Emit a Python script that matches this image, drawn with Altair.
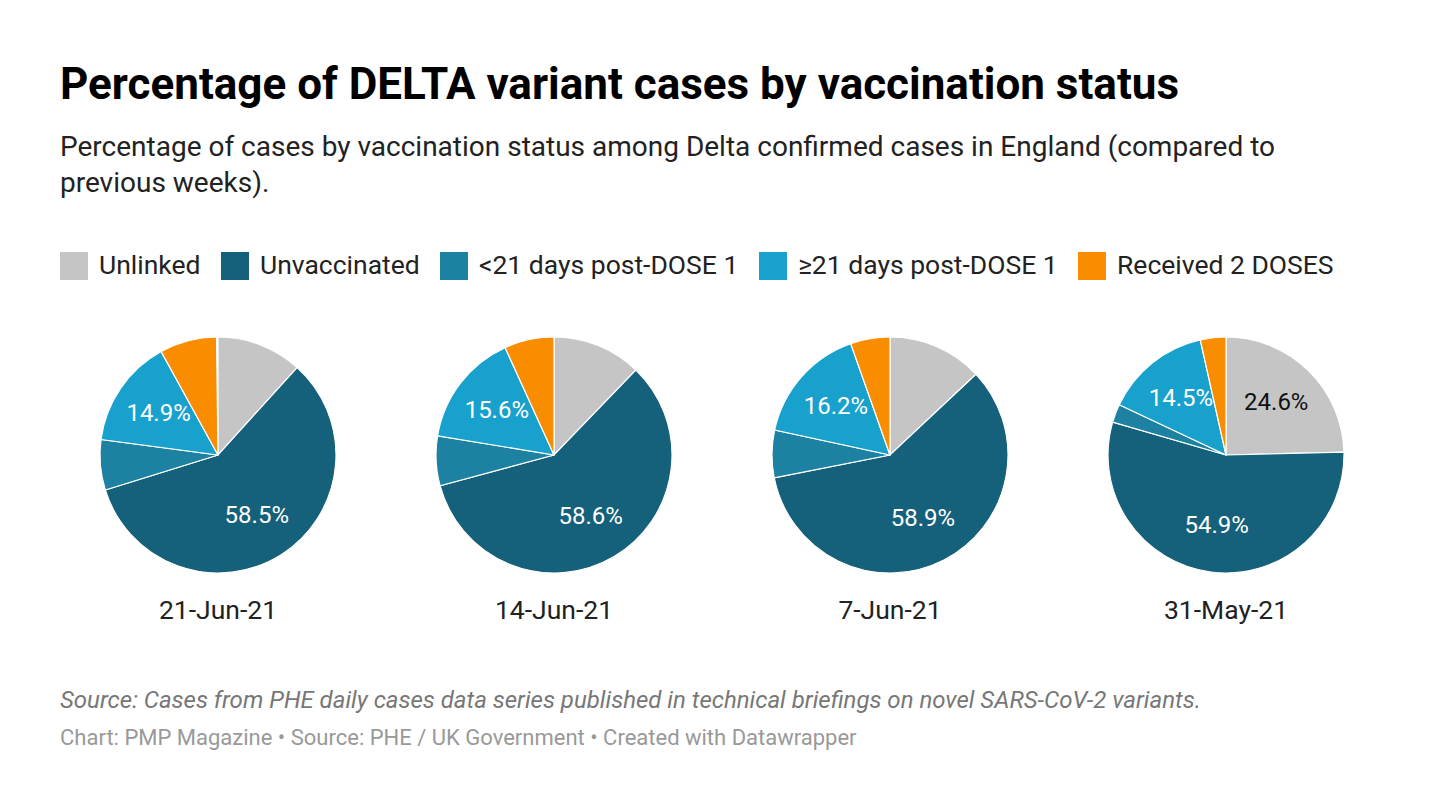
import math
import altair as alt
import pandas as pd

# ---- data ----
dates = ["21-Jun-21", "14-Jun-21", "7-Jun-21", "31-May-21"]
statuses = ["Unlinked", "Unvaccinated", "<21 days post-DOSE 1",
            "\u226521 days post-DOSE 1", "Received 2 DOSES"]
unlinked = [11.7, 12.2, 13.0, 24.6]
unvaccinated = [58.5, 58.6, 58.9, 54.9]
lt21_dose1 = [6.9, 6.8, 6.5, 2.5]
ge21_dose1 = [14.9, 15.6, 16.2, 14.5]
two_doses = [7.8, 6.8, 5.4, 3.5]
# which slices carry a printed label
labelled = {
    "21-Jun-21": ["Unvaccinated", "\u226521 days post-DOSE 1"],
    "14-Jun-21": ["Unvaccinated", "\u226521 days post-DOSE 1"],
    "7-Jun-21": ["Unvaccinated", "\u226521 days post-DOSE 1"],
    "31-May-21": ["Unlinked", "Unvaccinated", "\u226521 days post-DOSE 1"],
}
colors = ["#c5c5c5", "#15607a", "#1d81a2", "#18a1cd", "#fa8c00"]

title = "Percentage of DELTA variant cases by vaccination status"
subtitle = ["Percentage of cases by vaccination status among Delta confirmed cases in England (compared to",
            "previous weeks)."]
note = "Source: Cases from PHE daily cases data series published in technical briefings on novel SARS-CoV-2 variants."
credit = "Chart: PMP Magazine \u2022 Source: PHE / UK Government \u2022 Created with Datawrapper"

series = [unlinked, unvaccinated, lt21_dose1, ge21_dose1, two_doses]
rows = []
for di, d in enumerate(dates):
    for si, s in enumerate(statuses):
        v = series[si][di]
        rows.append({"date": d, "status": s, "order": si, "value": v,
                     "label": f"{v:.1f}%", "show": s in labelled[d]})
df = pd.DataFrame(rows)

FONT = "Roboto"
theta_scale = alt.Scale(domain=[0, 100], range=[0, 2 * math.pi])
xenc = alt.X("date:N", scale=alt.Scale(type="point", domain=dates, range=[210, 1218], padding=0), axis=None)
CY = 447

base = alt.Chart(df).transform_window(
    cum="sum(value)", groupby=["date"], sort=[alt.SortField("order")]
).transform_calculate(
    start="datum.cum - datum.value",
    mid="datum.cum - datum.value / 2",
)

arcs = base.mark_arc(outerRadius=118, stroke="white", strokeWidth=1.2).encode(
    x=xenc,
    y=alt.value(CY),
    theta=alt.Theta("start:Q", scale=theta_scale),
    theta2="cum:Q",
    color=alt.Color(
        "status:N",
        scale=alt.Scale(domain=statuses, range=colors),
        legend=alt.Legend(
            title=None, orient="none", legendX=52, legendY=244, direction="horizontal",
            symbolType="square", symbolSize=784, symbolStrokeWidth=0, symbolOpacity=1,
            labelFont=FONT, labelFontSize=26.5, labelColor="#222", labelOffset=11,
            columnPadding=20, padding=0, labelLimit=400,
        ),
    ),
    tooltip=["date:N", "status:N", "value:Q"],
)

labels = base.transform_filter("datum.show").mark_text(
    radius=72, font=FONT, fontSize=24, baseline="middle", align="center"
).encode(
    x=xenc,
    y=alt.value(CY),
    theta=alt.Theta("mid:Q", scale=theta_scale),
    text="label:N",
    color=alt.when(alt.datum.status == "Unlinked").then(alt.value("#111")).otherwise(alt.value("white")),
)

date_df = pd.DataFrame({"date": dates})
date_labels = alt.Chart(date_df).mark_text(font=FONT, fontSize=26.5, color="#222", baseline="alphabetic").encode(
    x=xenc, y=alt.value(611), text="date:N"
)

def text_line(txt, y, size, color, weight="normal", style="normal"):
    return alt.Chart(pd.DataFrame({"t": [txt]})).mark_text(
        font=FONT, fontSize=size, color=color, fontWeight=weight, fontStyle=style,
        align="left", baseline="alphabetic"
    ).encode(x=alt.value(52), y=alt.value(y), text="t:N")

texts = [
    text_line(title, 91, 44, "#000", weight="bold"),
    text_line(subtitle[0], 148, 28, "#222"),
    text_line(subtitle[1], 184, 28, "#222"),
    text_line(note, 700, 24, "#777", style="italic"),
    text_line(credit, 737, 22, "#999"),
]

chart = alt.layer(arcs, labels, date_labels, *texts).properties(
    width=1428, height=794, autosize="none", padding=0, background="white"
).configure_view(stroke=None)

chart.save("out.html", embed_options={"renderer": "svg", "actions": False})
